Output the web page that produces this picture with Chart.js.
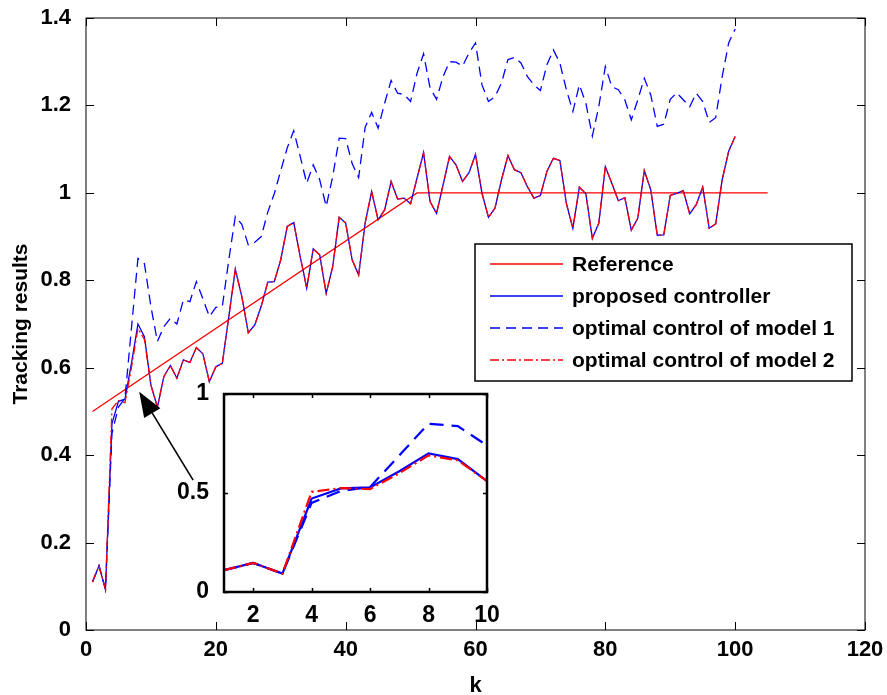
<!DOCTYPE html>
<html>
<head>
<meta charset="utf-8">
<script src="https://cdn.jsdelivr.net/npm/chart.js@4.4.1/dist/chart.umd.min.js"></script>
<style>
  html, body { margin: 0; padding: 0; background: #fff; }
  #wrap { position: relative; width: 887px; height: 695px; }
  #main { position: absolute; left: 0; top: 0; }
  #inset { position: absolute; left: 150px; top: 375px; }
</style>
</head>
<body>
<div id="wrap">
  <canvas id="main" width="887" height="695"></canvas>
  <canvas id="inset" width="360" height="255"></canvas>
</div>
<script>
// time steps
const kValues = [
  1, 2, 3, 4, 5, 6, 7, 8, 9, 10, 11, 12, 13, 14, 15, 16, 17, 18, 19, 20,
  21, 22, 23, 24, 25, 26, 27, 28, 29, 30, 31, 32, 33, 34, 35, 36, 37, 38, 39, 40,
  41, 42, 43, 44, 45, 46, 47, 48, 49, 50, 51, 52, 53, 54, 55, 56, 57, 58, 59, 60,
  61, 62, 63, 64, 65, 66, 67, 68, 69, 70, 71, 72, 73, 74, 75, 76, 77, 78, 79, 80,
  81, 82, 83, 84, 85, 86, 87, 88, 89, 90, 91, 92, 93, 94, 95, 96, 97, 98, 99, 100
];

// reference trajectory (ramp then flat)
const referenceK = [1, 51, 105];
const referenceValues = [0.5, 1, 1];

const proposedValues = [
  0.110, 0.147, 0.093, 0.472, 0.523, 0.528, 0.610, 0.700, 0.671, 0.560,
  0.510, 0.580, 0.605, 0.576, 0.618, 0.612, 0.646, 0.632, 0.568, 0.602,
  0.610, 0.717, 0.825, 0.763, 0.680, 0.698, 0.741, 0.796, 0.797, 0.847,
  0.923, 0.932, 0.854, 0.782, 0.872, 0.858, 0.770, 0.831, 0.944, 0.931,
  0.847, 0.812, 0.931, 1.003, 0.938, 0.961, 1.026, 0.986, 0.988, 0.975,
  1.034, 1.092, 0.980, 0.953, 1.018, 1.083, 1.064, 1.026, 1.046, 1.088,
  0.999, 0.944, 0.965, 1.030, 1.085, 1.053, 1.046, 1.014, 0.988, 0.994,
  1.049, 1.079, 1.074, 0.976, 0.919, 1.013, 0.998, 0.896, 0.931, 1.060,
  1.022, 0.982, 0.989, 0.915, 0.942, 1.051, 1.007, 0.903, 0.904, 0.994,
  0.999, 1.005, 0.952, 0.973, 1.013, 0.919, 0.929, 1.030, 1.095, 1.129
];

const model1Values = [
  0.110, 0.147, 0.093, 0.450, 0.510, 0.530, 0.690, 0.850, 0.838, 0.740,
  0.660, 0.694, 0.713, 0.700, 0.755, 0.751, 0.797, 0.758, 0.717, 0.738,
  0.740, 0.847, 0.946, 0.928, 0.881, 0.887, 0.900, 0.956, 0.998, 1.051,
  1.103, 1.142, 1.083, 1.022, 1.064, 1.030, 0.969, 1.037, 1.125, 1.124,
  1.067, 1.035, 1.150, 1.184, 1.148, 1.205, 1.257, 1.228, 1.225, 1.209,
  1.274, 1.318, 1.240, 1.214, 1.266, 1.300, 1.299, 1.290, 1.320, 1.343,
  1.247, 1.209, 1.220, 1.251, 1.305, 1.310, 1.297, 1.266, 1.247, 1.234,
  1.293, 1.327, 1.297, 1.236, 1.186, 1.247, 1.205, 1.130, 1.198, 1.289,
  1.243, 1.236, 1.213, 1.167, 1.213, 1.262, 1.224, 1.152, 1.157, 1.214,
  1.229, 1.213, 1.197, 1.228, 1.209, 1.161, 1.172, 1.266, 1.343, 1.375
];

const model2Values = [
  0.110, 0.147, 0.093, 0.506, 0.525, 0.520, 0.600, 0.690, 0.665, 0.560,
  0.510, 0.580, 0.605, 0.576, 0.618, 0.612, 0.646, 0.632, 0.568, 0.602,
  0.610, 0.717, 0.825, 0.763, 0.680, 0.698, 0.741, 0.796, 0.797, 0.847,
  0.923, 0.932, 0.854, 0.782, 0.872, 0.858, 0.770, 0.831, 0.944, 0.931,
  0.847, 0.812, 0.931, 1.003, 0.938, 0.961, 1.026, 0.986, 0.988, 0.975,
  1.034, 1.092, 0.980, 0.953, 1.018, 1.083, 1.064, 1.026, 1.046, 1.088,
  0.999, 0.944, 0.965, 1.030, 1.085, 1.053, 1.046, 1.014, 0.988, 0.994,
  1.049, 1.079, 1.074, 0.976, 0.919, 1.013, 0.998, 0.896, 0.931, 1.060,
  1.022, 0.982, 0.989, 0.915, 0.942, 1.051, 1.007, 0.903, 0.904, 0.994,
  0.999, 1.005, 0.952, 0.973, 1.013, 0.919, 0.929, 1.030, 1.095, 1.129
];

const mainXTicks = [0, 20, 40, 60, 80, 100, 120];
const mainYTicks = [0, 0.2, 0.4, 0.6, 0.8, 1, 1.2, 1.4];
const insetXTicks = [2, 4, 6, 8, 10];
const insetYTicks = [0, 0.5, 1];

// arrow from the zoom box to the region it magnifies (data units)
const arrowFrom = [16.5, 0.343];
const arrowTo = [8.2, 0.545];

const FONT = 'Liberation Sans, Arial, Helvetica, sans-serif';
const RED = '#ff0000';
const BLUE = '#0000ff';

const pairs = (xs, ys) => xs.map((x, i) => ({ x: x, y: ys[i] }));
const fmt = v => String(+Number(v).toFixed(2));

// MATLAB-like box: frame on all four sides, ticks pointing inward
const boxFrame = {
  id: 'boxFrame',
  afterDatasetsDraw(chart, args, opts) {
    const { ctx, chartArea: a } = chart;
    const xs = chart.scales.x, ys = chart.scales.y;
    ctx.save();
    ctx.strokeStyle = opts.color;
    ctx.lineWidth = opts.tickWidth;
    ctx.beginPath();
    xs.ticks.forEach(t => {
      const px = Math.round(xs.getPixelForValue(t.value)) + 0.5;
      ctx.moveTo(px, a.bottom); ctx.lineTo(px, a.bottom - opts.len);
      ctx.moveTo(px, a.top); ctx.lineTo(px, a.top + opts.len);
    });
    ys.ticks.forEach(t => {
      const py = Math.round(ys.getPixelForValue(t.value)) + 0.5;
      ctx.moveTo(a.left, py); ctx.lineTo(a.left + opts.len, py);
      ctx.moveTo(a.right, py); ctx.lineTo(a.right - opts.len, py);
    });
    ctx.stroke();
    ctx.lineWidth = opts.width;
    ctx.strokeRect(a.left, a.top, a.right - a.left, a.bottom - a.top);
    ctx.restore();
  }
};

const whiteArea = {
  id: 'whiteArea',
  beforeDatasetsDraw(chart) {
    const { ctx, chartArea: a } = chart;
    ctx.save();
    ctx.fillStyle = '#fff';
    ctx.fillRect(a.left, a.top, a.right - a.left, a.bottom - a.top);
    ctx.restore();
  }
};

const boxLegend = {
  id: 'boxLegend',
  afterDraw(chart, args, o) {
    const ctx = chart.ctx;
    ctx.save();
    ctx.fillStyle = '#fff';
    ctx.fillRect(o.left, o.top, o.width, o.height);
    ctx.strokeStyle = '#000';
    ctx.lineWidth = 1.5;
    ctx.strokeRect(o.left, o.top, o.width, o.height);
    ctx.font = o.font;
    ctx.textBaseline = 'middle';
    ctx.fillStyle = '#000';
    chart.data.datasets.forEach((ds, i) => {
      const yy = o.top + o.firstRow + i * o.rowGap;
      ctx.strokeStyle = ds.borderColor;
      ctx.lineWidth = ds.borderWidth;
      ctx.setLineDash(ds.borderDash || []);
      ctx.beginPath();
      ctx.moveTo(o.left + 15, yy);
      ctx.lineTo(o.left + 88, yy);
      ctx.stroke();
      ctx.setLineDash([]);
      ctx.fillText(ds.label, o.left + 97, yy + 1);
    });
    ctx.restore();
  }
};

const arrowNote = {
  id: 'arrowNote',
  afterDraw(chart, args, o) {
    const { ctx } = chart;
    const xs = chart.scales.x, ys = chart.scales.y;
    const x0 = xs.getPixelForValue(o.from[0]), y0 = ys.getPixelForValue(o.from[1]);
    const x1 = xs.getPixelForValue(o.to[0]), y1 = ys.getPixelForValue(o.to[1]);
    const ang = Math.atan2(y1 - y0, x1 - x0);
    const hl = 25, hw = 9.5;
    const bx = x1 - hl * Math.cos(ang), by = y1 - hl * Math.sin(ang);
    ctx.save();
    ctx.strokeStyle = '#000';
    ctx.fillStyle = '#000';
    ctx.lineWidth = 1.6;
    ctx.beginPath();
    ctx.moveTo(x0, y0);
    ctx.lineTo(bx, by);
    ctx.stroke();
    ctx.beginPath();
    ctx.moveTo(x1, y1);
    ctx.lineTo(bx + hw * Math.sin(ang), by - hw * Math.cos(ang));
    ctx.lineTo(bx - hw * Math.sin(ang), by + hw * Math.cos(ang));
    ctx.closePath();
    ctx.fill();
    ctx.restore();
  }
};

function makeDatasets(w, dash, dashDot) {
  return [
    { label: 'Reference', data: pairs(referenceK, referenceValues), borderColor: RED, borderWidth: w, order: 3 },
    { label: 'proposed controller', data: pairs(kValues, proposedValues), borderColor: BLUE, borderWidth: w, order: 2 },
    { label: 'optimal control of model 1', data: pairs(kValues, model1Values), borderColor: BLUE, borderWidth: w, borderDash: dash, order: 1 },
    { label: 'optimal control of model 2', data: pairs(kValues, model2Values), borderColor: RED, borderWidth: w, borderDash: dashDot, order: 0 }
  ];
}

const tickFont = { family: FONT, size: 22, weight: 'bold', lineHeight: 1 };

new Chart(document.getElementById('main'), {
  type: 'line',
  data: { datasets: makeDatasets(1.3, [10, 6], [9, 3, 2, 3]) },
  options: {
    responsive: false,
    animation: false,
    layout: { padding: { top: 17, right: 22, left: 0, bottom: 0 } },
    elements: { point: { radius: 0 }, line: { tension: 0, fill: false } },
    plugins: {
      legend: { display: false },
      tooltip: { enabled: false },
      boxFrame: { color: '#000', width: 1, tickWidth: 1, len: 8 },
      boxLegend: {
        left: 475, top: 244, width: 377, height: 137,
        firstRow: 20, rowGap: 32,
        font: 'bold 21px ' + FONT
      },
      arrowNote: { from: arrowFrom, to: arrowTo }
    },
    scales: {
      x: {
        type: 'linear', min: 0, max: 120,
        afterBuildTicks: s => { s.ticks = mainXTicks.map(v => ({ value: v })); },
        afterFit: s => { s.height = 65; },
        grid: { display: false },
        border: { display: false },
        ticks: { font: tickFont, color: '#000', padding: 1, maxRotation: 0, callback: fmt },
        title: { display: true, text: 'k', color: '#000', padding: 0,
                 font: { family: FONT, size: 22, weight: 'bold', lineHeight: 0.8 } }
      },
      y: {
        type: 'linear', min: 0, max: 1.4,
        afterBuildTicks: s => { s.ticks = mainYTicks.map(v => ({ value: v })); },
        afterFit: s => { s.width = 86; },
        grid: { display: false },
        border: { display: false },
        ticks: { font: tickFont, color: '#000', padding: 7, callback: fmt },
        title: { display: true, text: 'Tracking results', color: '#000',
                 padding: { top: 9, bottom: 0 },
                 font: { family: FONT, size: 21, weight: 'bold', lineHeight: 1.2 } }
      }
    }
  },
  plugins: [boxFrame, boxLegend, arrowNote]
});

const insetFont = { family: FONT, size: 23, weight: 'bold', lineHeight: 1 };

// the zoomed view shows only the three controller responses
new Chart(document.getElementById('inset'), {
  type: 'line',
  data: { datasets: makeDatasets(2.2, [14, 8], [12, 4, 2, 4]).slice(1) },
  options: {
    responsive: false,
    animation: false,
    layout: { padding: { top: 19, right: 23, left: 0, bottom: 0 } },
    elements: { point: { radius: 0 }, line: { tension: 0, fill: false } },
    plugins: {
      legend: { display: false },
      tooltip: { enabled: false },
      boxFrame: { color: '#000', width: 2.5, tickWidth: 1.5, len: 4 }
    },
    scales: {
      x: {
        type: 'linear', min: 1, max: 10,
        afterBuildTicks: s => { s.ticks = insetXTicks.map(v => ({ value: v })); },
        afterFit: s => { s.height = 38; },
        grid: { display: false },
        border: { display: false },
        ticks: { font: insetFont, color: '#000', padding: 4, maxRotation: 0, callback: fmt }
      },
      y: {
        type: 'linear', min: 0, max: 1,
        afterBuildTicks: s => { s.ticks = insetYTicks.map(v => ({ value: v })); },
        afterFit: s => { s.width = 74; },
        grid: { display: false },
        border: { display: false },
        ticks: { font: insetFont, color: '#000', padding: 7, callback: fmt }
      }
    }
  },
  plugins: [whiteArea, boxFrame]
});
</script>
</body>
</html>
